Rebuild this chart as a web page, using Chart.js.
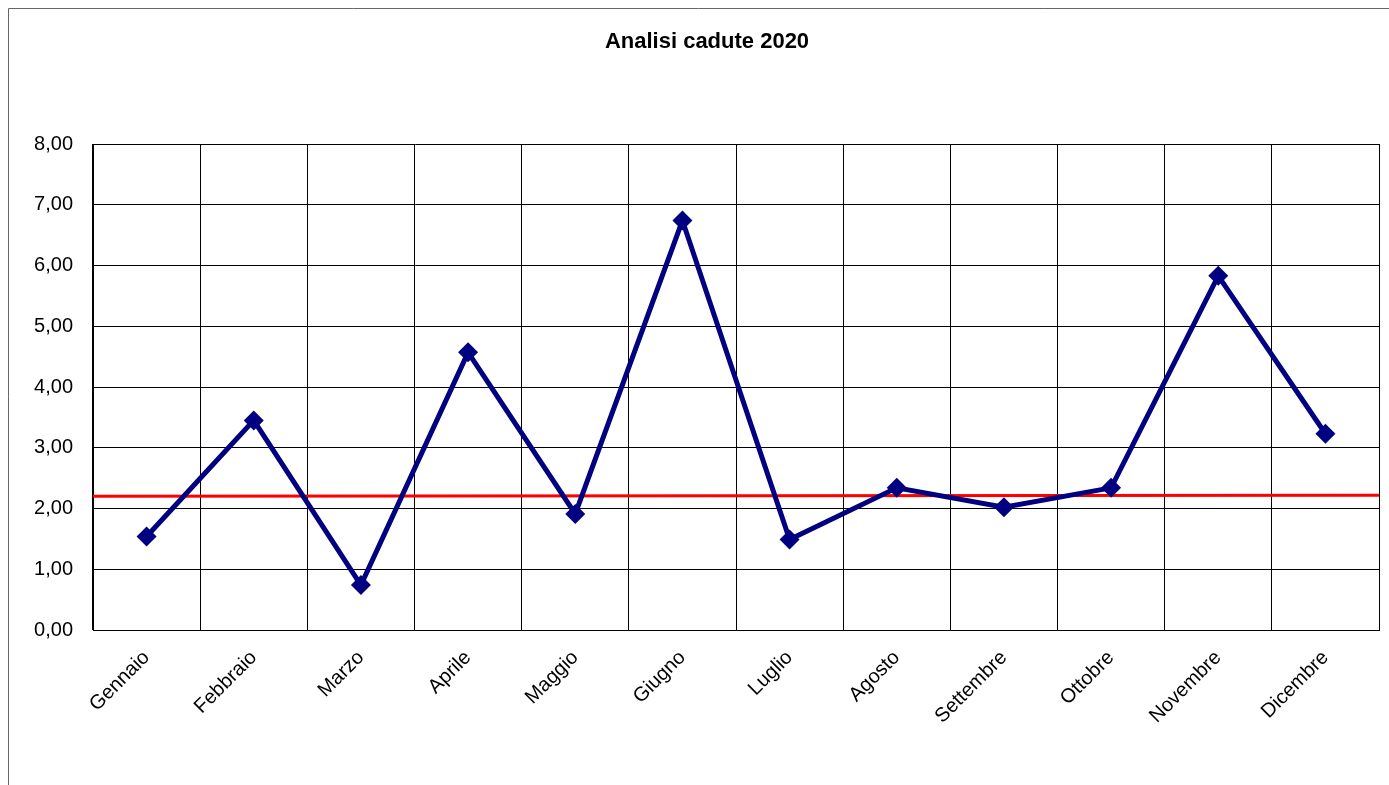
<!DOCTYPE html>
<html>
<head>
<meta charset="utf-8">
<title>Analisi cadute 2020</title>
<script src="https://cdn.jsdelivr.net/npm/chart.js@4/dist/chart.umd.min.js"></script>
<style>
    html, body { margin: 0; padding: 0; background: #fff; }
    #wrap { position: relative; width: 1389px; height: 785px; }
</style>
</head>
<body>
<div id="wrap"><canvas id="chart" width="1389" height="785"></canvas></div>
<script>
// Dati
const mesi = ['Gennaio', 'Febbraio', 'Marzo', 'Aprile', 'Maggio', 'Giugno',
              'Luglio', 'Agosto', 'Settembre', 'Ottobre', 'Novembre', 'Dicembre'];
const cadute = [1.54, 3.45, 0.74, 4.57, 1.91, 6.74, 1.49, 2.34, 2.02, 2.34, 5.83, 3.23];
// linea rossa (inizio e fine del grafico)
const rifX = [0, 12];
const rifY = [2.20, 2.22];
const yTicks = [0, 1, 2, 3, 4, 5, 6, 7, 8];
const titolo = 'Analisi cadute 2020';

const FONT = "'Liberation Sans', Arial, sans-serif";

// cornice esterna + titolo
const cornice = {
    id: 'cornice',
    beforeDraw(chart) {
        const ctx = chart.ctx;
        ctx.save();
        ctx.strokeStyle = '#666';
        ctx.lineWidth = 1;
        ctx.beginPath();
        ctx.moveTo(8.5, 785);
        ctx.lineTo(8.5, 8.5);
        ctx.lineTo(1389, 8.5);
        ctx.stroke();
        ctx.restore();
    },
    afterDraw(chart) {
        const ctx = chart.ctx;
        ctx.save();
        ctx.fillStyle = '#000';
        ctx.font = 'bold 22px ' + FONT;
        ctx.textAlign = 'center';
        ctx.textBaseline = 'middle';
        ctx.fillText(titolo, 707, 42);
        ctx.restore();
    }
};

new Chart(document.getElementById('chart'), {
    type: 'line',
    data: {
        labels: mesi,
        datasets: [{
            label: 'Cadute',
            data: cadute,
            borderColor: '#000080',
            backgroundColor: '#000080',
            borderWidth: 5,
            pointStyle: 'rectRot',
            pointRadius: 10,
            pointBorderWidth: 0,
            tension: 0,
            order: 1
        }, {
            label: 'Riferimento',
            data: rifX.map((x, i) => ({ x: x, y: rifY[i] })),
            xAxisID: 'x2',
            borderColor: '#ff0000',
            borderWidth: 3,
            pointRadius: 0,
            tension: 0,
            order: 2
        }]
    },
    options: {
        responsive: false,
        animation: false,
        layout: { padding: { top: 144, right: 7, left: 0, bottom: 0 } },
        plugins: {
            legend: { display: false },
            tooltip: { enabled: false },
            title: { display: false }
        },
        scales: {
            x: {
                type: 'category',
                offset: true,
                grid: { color: '#000', lineWidth: 1, drawTicks: false, offset: true },
                border: { color: '#000', width: 1 },
                ticks: {
                    color: '#000',
                    font: { family: FONT, size: 20 },
                    minRotation: 45,
                    maxRotation: 45,
                    padding: 16
                },
                afterFit(scale) { scale.height = 155; }
            },
            x2: {
                type: 'linear',
                display: false,
                min: 0,
                max: 12
            },
            y: {
                min: 0,
                max: 8,
                afterBuildTicks(scale) { scale.ticks = yTicks.map(v => ({ value: v })); },
                grid: { color: '#000', lineWidth: 1, drawTicks: false },
                border: { color: '#000', width: 1 },
                ticks: {
                    color: '#000',
                    font: { family: FONT, size: 20 },
                    padding: 20,
                    callback: v => v.toFixed(2).replace('.', ',')
                },
                afterFit(scale) { scale.width = 93; }
            }
        }
    },
    plugins: [cornice]
});
</script>
</body>
</html>
